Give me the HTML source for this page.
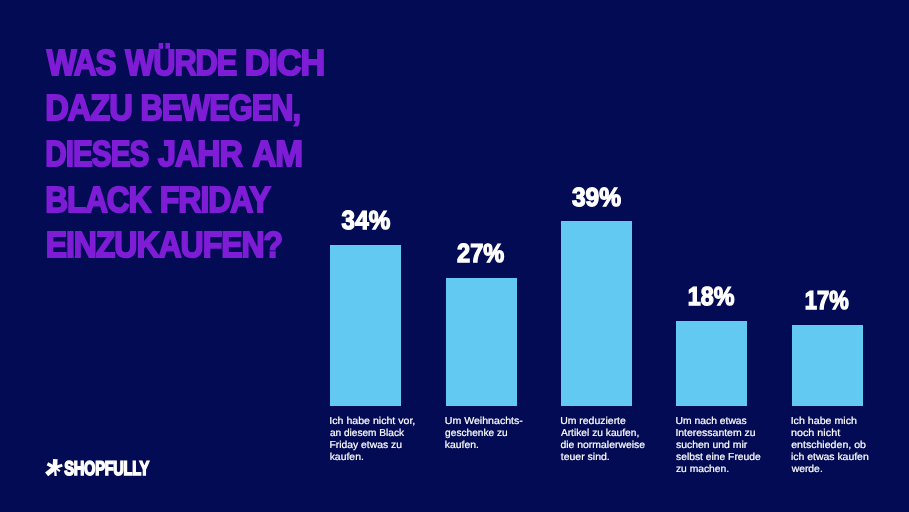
<!DOCTYPE html>
<html lang="de"><head><meta charset="utf-8"><title>Black Friday Umfrage</title><style>
html,body{margin:0;padding:0;background:#020b53;}
body{width:909px;height:512px;overflow:hidden;background:#020b53;position:relative;font-family:"Liberation Sans",sans-serif;}
.stage{position:absolute;left:0;top:0;width:909px;height:512px;background:#020b53;overflow:hidden;}
h1,p{margin:0;padding:0;font-size:inherit;font-weight:inherit;}
.ln{display:block;}
.t{display:block;position:absolute;left:0;white-space:nowrap;transform-origin:0 0;margin:0;padding:0;text-rendering:geometricPrecision;}
.title .t{color:#7e1cd6;font-weight:700;-webkit-text-stroke:1.9px #7e1cd6;}
.lab{color:#ffffff;font-weight:700;-webkit-text-stroke:1.3px #ffffff;}
.cap .t{color:#ffffff;font-weight:400;-webkit-text-stroke:0.2px #ffffff;}
.bar{position:absolute;background:#62caf2;}
.logo .t{color:#ffffff;font-weight:700;-webkit-text-stroke:1.6px #ffffff;}
</style></head><body><div class="stage">
<h1 class="title">
<span class="ln"><span class="t " style="top:41.00px;font-size:36.34px;line-height:44px;letter-spacing:-1.2px;transform:translateX(46.72px) scaleX(0.8682)">WAS</span> <span class="t " style="top:41.00px;font-size:36.34px;line-height:44px;letter-spacing:-1.2px;transform:translateX(125.20px) scaleX(0.8463)">WÜRDE</span> <span class="t " style="top:41.00px;font-size:36.34px;line-height:44px;letter-spacing:-1.2px;transform:translateX(244.75px) scaleX(0.9447)">DICH</span></span>
<span class="ln"><span class="t " style="top:86.00px;font-size:36.34px;line-height:44px;letter-spacing:-1.2px;transform:translateX(45.21px) scaleX(0.8998)">DAZU</span> <span class="t " style="top:86.00px;font-size:36.34px;line-height:44px;letter-spacing:-1.2px;transform:translateX(140.48px) scaleX(0.8473)">BEWEGEN,</span></span>
<span class="ln"><span class="t " style="top:132.00px;font-size:36.34px;line-height:44px;letter-spacing:-1.2px;transform:translateX(45.32px) scaleX(0.8169)">DIESES</span> <span class="t " style="top:132.00px;font-size:36.34px;line-height:44px;letter-spacing:-1.2px;transform:translateX(158.04px) scaleX(0.8887)">JAHR</span> <span class="t " style="top:132.00px;font-size:36.34px;line-height:44px;letter-spacing:-1.2px;transform:translateX(252.25px) scaleX(0.9203)">AM</span></span>
<span class="ln"><span class="t " style="top:178.00px;font-size:36.34px;line-height:44px;letter-spacing:-1.2px;transform:translateX(45.26px) scaleX(0.8664)">BLACK</span> <span class="t " style="top:178.00px;font-size:36.34px;line-height:44px;letter-spacing:-1.2px;transform:translateX(159.84px) scaleX(0.8812)">FRIDAY</span></span>
<span class="ln"><span class="t " style="top:223.00px;font-size:36.34px;line-height:44px;letter-spacing:-1.2px;transform:translateX(45.63px) scaleX(0.8818)">EINZUKAUFEN?</span></span>
</h1>
<div class="chart">
<div class="bar" style="left:330.30px;top:244.74px;width:71.20px;height:161.06px"></div>
<span class="t lab" style="top:205.00px;font-size:26.13px;line-height:31px;transform:translateX(341.62px) scaleX(0.9296)">34%</span>
<div class="bar" style="left:445.50px;top:277.90px;width:71.10px;height:127.90px"></div>
<span class="t lab" style="top:238.00px;font-size:26.13px;line-height:31px;transform:translateX(457.05px) scaleX(0.9025)">27%</span>
<div class="bar" style="left:561.00px;top:221.06px;width:71.00px;height:184.74px"></div>
<span class="t lab" style="top:181.00px;font-size:26.27px;line-height:32px;transform:translateX(571.92px) scaleX(0.9360)">39%</span>
<div class="bar" style="left:676.20px;top:320.53px;width:71.10px;height:85.27px"></div>
<span class="t lab" style="top:281.00px;font-size:25.99px;line-height:31px;transform:translateX(687.83px) scaleX(0.8962)">18%</span>
<div class="bar" style="left:791.60px;top:325.27px;width:71.20px;height:80.53px"></div>
<span class="t lab" style="top:285.00px;font-size:26.13px;line-height:31px;transform:translateX(804.77px) scaleX(0.8392)">17%</span>
</div>
<p class="cap"><span class="t " style="top:416.00px;font-size:10.2px;line-height:12px;transform:translateX(329.36px) scaleX(1.0395)">Ich habe nicht vor,</span>
<span class="t " style="top:428.00px;font-size:10.2px;line-height:12px;transform:translateX(329.90px) scaleX(0.9921)">an diesem Black</span>
<span class="t " style="top:440.00px;font-size:10.2px;line-height:12px;transform:translateX(329.49px) scaleX(1.0150)">Friday etwas zu</span>
<span class="t " style="top:452.00px;font-size:10.2px;line-height:12px;transform:translateX(329.63px) scaleX(1.0243)">kaufen.</span></p>
<p class="cap"><span class="t " style="top:416.00px;font-size:10.2px;line-height:12px;transform:translateX(444.72px) scaleX(1.0405)">Um Weihnachts-</span>
<span class="t " style="top:428.00px;font-size:10.2px;line-height:12px;transform:translateX(445.10px) scaleX(0.9956)">geschenke zu</span>
<span class="t " style="top:440.00px;font-size:10.2px;line-height:12px;transform:translateX(444.84px) scaleX(1.0180)">kaufen.</span></p>
<p class="cap"><span class="t " style="top:416.00px;font-size:10.2px;line-height:12px;transform:translateX(560.13px) scaleX(1.0273)">Um reduzierte</span>
<span class="t " style="top:428.00px;font-size:10.2px;line-height:12px;transform:translateX(560.90px) scaleX(1.0032)">Artikel zu kaufen,</span>
<span class="t " style="top:440.00px;font-size:10.2px;line-height:12px;transform:translateX(560.49px) scaleX(1.0226)">die normalerweise</span>
<span class="t " style="top:452.00px;font-size:10.2px;line-height:12px;transform:translateX(560.75px) scaleX(1.0302)">teuer sind.</span></p>
<p class="cap"><span class="t " style="top:416.00px;font-size:10.2px;line-height:12px;transform:translateX(675.54px) scaleX(1.0145)">Um nach etwas</span>
<span class="t " style="top:428.00px;font-size:10.2px;line-height:12px;transform:translateX(675.38px) scaleX(1.0265)">Interessantem zu</span>
<span class="t " style="top:440.00px;font-size:10.2px;line-height:12px;transform:translateX(676.04px) scaleX(1.0225)">suchen und mir</span>
<span class="t " style="top:452.00px;font-size:10.2px;line-height:12px;transform:translateX(676.05px) scaleX(1.0103)">selbst eine Freude</span>
<span class="t " style="top:464.00px;font-size:10.2px;line-height:12px;transform:translateX(675.90px) scaleX(1.0108)">zu machen.</span></p>
<p class="cap"><span class="t " style="top:416.00px;font-size:10.2px;line-height:12px;transform:translateX(790.66px) scaleX(1.0455)">Ich habe mich</span>
<span class="t " style="top:428.00px;font-size:10.2px;line-height:12px;transform:translateX(790.91px) scaleX(1.0608)">noch nicht</span>
<span class="t " style="top:440.00px;font-size:10.2px;line-height:12px;transform:translateX(791.18px) scaleX(1.0393)">entschieden, ob</span>
<span class="t " style="top:452.00px;font-size:10.2px;line-height:12px;transform:translateX(790.93px) scaleX(1.0254)">ich etwas kaufen</span>
<span class="t " style="top:464.00px;font-size:10.2px;line-height:12px;transform:translateX(791.65px) scaleX(1.0174)">werde.</span></p>
<div class="logo">
<svg class="ast" style="position:absolute;left:40px;top:452px" width="30" height="30" viewBox="40 452 30 30"><g fill="none" stroke="#fff" stroke-linecap="butt"><path d="M54.9,468.2 L55.3,459.2" stroke-width="4.6"/><path d="M55.3,468 L47.4,463.7" stroke-width="3.4"/><path d="M54.5,467.9 L62.3,465.2" stroke-width="3"/><path d="M56,466.8 L46.6,474.3" stroke-width="4.9"/><path d="M55,467 L55.6,476" stroke-width="2.3"/><path d="M54.5,467 L59.9,471.3" stroke-width="2.1"/></g></svg>
<span class="t " style="top:457.00px;font-size:19.91px;line-height:24px;letter-spacing:-0.4px;transform:translateX(64.36px) scaleX(0.7349)">SHOPFULLY</span>
</div>
</div></body></html>
